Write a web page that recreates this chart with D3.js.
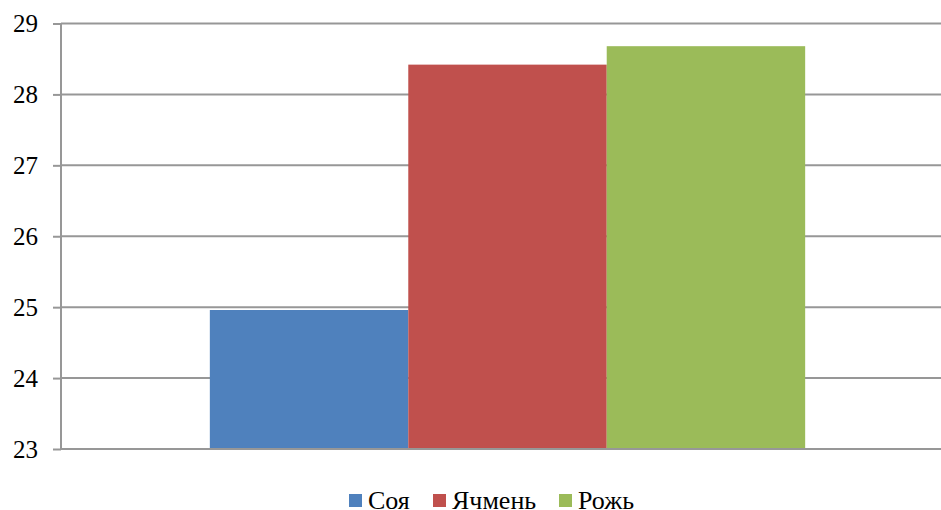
<!DOCTYPE html>
<html>
<head>
<meta charset="utf-8">
<script src="https://cdn.jsdelivr.net/npm/d3@7"></script>
<style>
  html, body { margin: 0; padding: 0; background: #fff; overflow: hidden; }
  svg { display: block; font-family: "Liberation Serif", "Times New Roman", serif; }
</style>
</head>
<body>
<svg id="chart" width="941" height="510"></svg>
<script>
// Crop names and their values
const series = ["Соя", "Ячмень", "Рожь"];
const values = [24.96, 28.42, 28.68];
const colors = ["#4f81bd", "#c0504d", "#9bbb59"];
const yTicks = [23, 24, 25, 26, 27, 28, 29];
const category = [""];

const svg = d3.select("#chart");
const plot = { left: 61, right: 954, top: 23.5, bottom: 449 };

const y = d3.scaleLinear().domain([23, 29]).range([plot.bottom, plot.top]);

const x0 = d3.scaleBand().domain(category).range([plot.left, plot.right])
  .paddingInner(0).paddingOuter(0.25);
const x1 = d3.scaleBand().domain(series).range([0, x0.bandwidth()]).padding(0);

const gridColor = "#979797";

// horizontal gridlines
svg.append("g").selectAll("line").data(yTicks.slice(1)).join("line")
  .attr("x1", plot.left).attr("x2", 941)
  .attr("y1", d => y(d)).attr("y2", d => y(d))
  .attr("stroke", gridColor).attr("stroke-width", 2);

// bars
svg.append("g").selectAll("rect").data(series).join("rect")
  .attr("x", d => x0("") + x1(d))
  .attr("width", x1.bandwidth())
  .attr("y", (d, i) => y(values[i]))
  .attr("height", (d, i) => y(23) - y(values[i]))
  .attr("fill", (d, i) => colors[i]);

// y axis
const yAxis = d3.axisLeft(y).tickValues(yTicks).tickSize(8).tickPadding(15).tickFormat(d3.format("d"));
const gy = svg.append("g").attr("transform", `translate(${plot.left},0)`).call(yAxis);
gy.select(".domain").attr("stroke", gridColor).attr("stroke-width", 2).attr("d", `M-0,${plot.top}V${plot.bottom}`);
gy.selectAll(".tick line").attr("stroke", gridColor).attr("stroke-width", 2);
gy.selectAll(".tick text")
  .attr("font-family", "Liberation Serif, Times New Roman, serif")
  .attr("font-size", 25).attr("fill", "#000")
  .attr("dy", "0.33em");

// x axis baseline
svg.append("line")
  .attr("x1", plot.left).attr("x2", 941)
  .attr("y1", y(23)).attr("y2", y(23))
  .attr("stroke", gridColor).attr("stroke-width", 2);

// legend
const legendX = [349, 433, 559];
const lg = svg.append("g").selectAll("g").data(series).join("g")
  .attr("transform", (d, i) => `translate(${legendX[i]},494)`);
lg.append("rect").attr("width", 13).attr("height", 13).attr("fill", (d, i) => colors[i]);
lg.append("text").attr("x", 19).attr("y", 15)
  .attr("font-size", 26).attr("fill", "#000").text(d => d);
</script>
</body>
</html>
